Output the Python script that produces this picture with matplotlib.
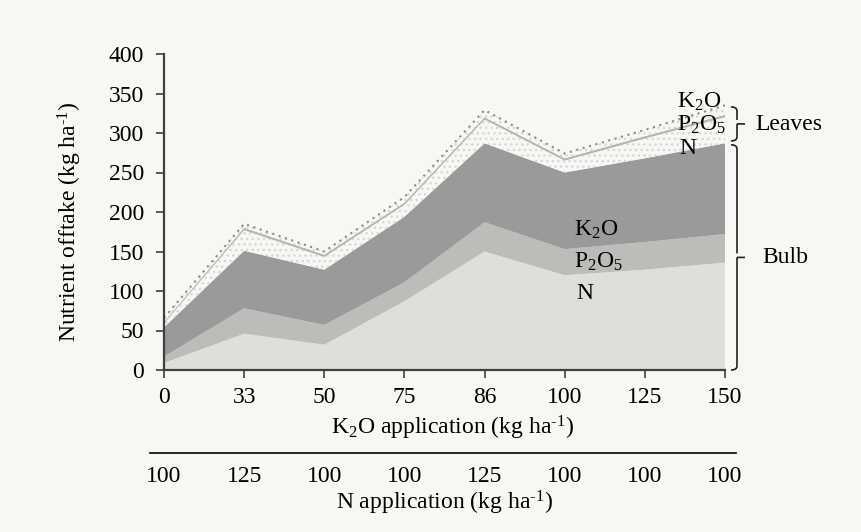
import matplotlib
matplotlib.use("Agg")
import matplotlib.pyplot as plt
import matplotlib.transforms as mtransforms
from matplotlib.path import Path
from matplotlib.patches import PathPatch
from matplotlib.lines import Line2D
import numpy as np

plt.rcParams['font.family'] = ['Liberation Serif', 'DejaVu Serif']
plt.rcParams['mathtext.fontset'] = 'custom'
plt.rcParams['mathtext.rm'] = 'Liberation Serif'
plt.rcParams['mathtext.it'] = 'Liberation Serif:italic'
plt.rcParams['mathtext.bf'] = 'Liberation Serif:bold'
plt.rcParams['hatch.linewidth'] = 1.0

# K2O treatment (x axis) and matching N treatment
k2o_rates = ['0', '33', '50', '75', '86', '100', '125', '150']
n_rates = ['100', '125', '100', '100', '125', '100', '100', '100']

# offtake per layer (kg/ha), stacked bottom to top
bulb_n = [9, 46, 32, 87, 150, 120, 127, 136]
bulb_p = [8, 32, 25, 24, 37, 33, 35, 36]
bulb_k = [37, 73, 70, 83, 100, 97, 106, 115]
leaf_n = [5, 26, 16, 15, 30, 15, 25, 33]
leaf_p = [2, 3, 3, 3, 3, 3, 3, 3]
leaf_k = [5, 5, 4, 7, 9, 6, 8, 12]

bg = '#f9f7f3'
fs = 17
unit = r'(kg ha$^{\text{-1}}$)'

fig = plt.figure(figsize=(8.61, 5.32), dpi=100, facecolor=bg)
ax = fig.add_axes([164 / 861, 1 - 370 / 532, 561 / 861, 316 / 532])
ax.set_facecolor(bg)

x = np.arange(len(k2o_rates))
layers = np.vstack([bulb_n, bulb_p, bulb_k, leaf_n, leaf_p, leaf_k])
tops = np.cumsum(layers, axis=0)
bottoms = np.vstack([np.zeros(len(x)), tops[:-1]])

# bulb layers, solid greys
for i, col in enumerate(['#dededb', '#bdbcb9', '#9a9a9a']):
    ax.fill_between(x, bottoms[i], tops[i], facecolor=col, edgecolor='none', lw=0)

# leaf N: fine light dots
ax.fill_between(x, bottoms[3], tops[3], facecolor=bg, edgecolor='#d9d7d3',
                hatch='...', lw=0)
# leaf P2O5: thin grey band
ax.fill_between(x, bottoms[4], tops[4], facecolor='#b4b4b2', edgecolor='none', lw=0)
# leaf K2O: dots with dotted top edge
ax.fill_between(x, bottoms[5], tops[5], facecolor=bg, edgecolor='#d9d7d3',
                hatch='...', lw=0)
ax.plot(x, tops[5], color='#8a8a8a', ls=(0, (1, 2.2)), lw=1.5)

ax.set_xlim(0, len(x) - 1)
ax.set_ylim(0, 400)
ax.set_yticks(range(0, 401, 50))
ax.set_xticks(x)
ax.set_xticklabels(k2o_rates)
for s in ['top', 'right']:
    ax.spines[s].set_visible(False)
for s in ['left', 'bottom']:
    ax.spines[s].set_color('#404040')
    ax.spines[s].set_linewidth(1.6)
ax.tick_params(axis='both', direction='out', length=5.5, width=1.2,
               color='#404040', labelsize=fs, labelcolor='black')
ax.tick_params(axis='y', pad=9)
ax.tick_params(axis='x', pad=7)

# labels inside the stack
ax.text(5.12, 177, r'K$_2$O', fontsize=fs, va='center', ha='left')
ax.text(5.12, 137, r'P$_2$O$_5$', fontsize=fs, va='center', ha='left')
ax.text(5.15, 97, 'N', fontsize=fs, va='center', ha='left')
ax.text(6.4, 339, r'K$_2$O', fontsize=fs, va='center', ha='left')
ax.text(6.4, 310, r'P$_2$O$_5$', fontsize=fs, va='center', ha='left')
ax.text(6.43, 281, 'N', fontsize=fs, va='center', ha='left')

# right-hand braces
trans = mtransforms.blended_transform_factory(ax.transAxes, ax.transData)
px = 1 / 561.0
py = 400 / 316.0


def brace(y0, y1, xa):
    ym = (y0 + y1) / 2
    r = 4
    verts = [(xa - 6 * px, y1), (xa, y1), (xa, y1 - r * py),
             (xa, ym + r * py), (xa, ym), (xa + 8 * px, ym),
             (xa, ym), (xa, ym - r * py),
             (xa, y0 + r * py), (xa, y0), (xa - 6 * px, y0)]
    codes = [Path.MOVETO, Path.CURVE3, Path.CURVE3,
             Path.LINETO, Path.MOVETO, Path.LINETO,
             Path.MOVETO, Path.LINETO,
             Path.LINETO, Path.CURVE3, Path.CURVE3]
    p = PathPatch(Path(verts, codes), fill=False, lw=1.2, color='#222222',
                  transform=trans, clip_on=False)
    ax.add_patch(p)


brace(290, 333, 1 + 12 * px)
brace(0, 285, 1 + 12 * px)
ax.text(1 + 30 * px, 311, 'Leaves', transform=trans, fontsize=fs, va='center', ha='left')
ax.text(1 + 37 * px, 143, 'Bulb', transform=trans, fontsize=fs, va='center', ha='left')

# axis titles and the N application row
fig.text(70 / 861, 1 - 222 / 532, 'Nutrient offtake ' + unit, rotation=90,
         fontsize=fs, ha='center', va='center')
fig.text(452 / 861, 1 - 428 / 532, r'K$_2$O application ' + unit,
         fontsize=fs, ha='center', va='center')
fig.add_artist(Line2D([150 / 861, 736 / 861], [1 - 453 / 532, 1 - 453 / 532],
                      color='black', lw=1.2))
ntrans = mtransforms.blended_transform_factory(ax.transData, fig.transFigure)
for xi, lab in zip(x, n_rates):
    ax.text(xi, 1 - 477 / 532, lab, transform=ntrans, fontsize=fs,
            ha='center', va='center', clip_on=False)
fig.text(444 / 861, 1 - 503 / 532, 'N application ' + unit,
         fontsize=fs, ha='center', va='center')

fig.savefig('out.png', dpi=100, facecolor=bg)
